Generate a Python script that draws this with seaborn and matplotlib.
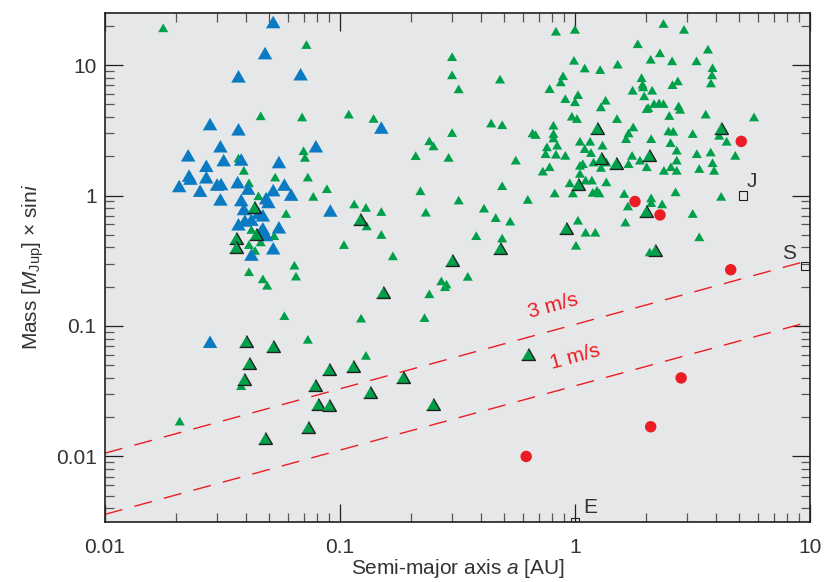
import numpy as np
import pandas as pd
import matplotlib
matplotlib.use('Agg')
import matplotlib.pyplot as plt
from matplotlib.markers import MarkerStyle
from matplotlib.ticker import FixedLocator, FixedFormatter, LogLocator, NullFormatter
import seaborn as sns

# radial-velocity planets (small green triangles)
rv_a = [0.0177, 0.072, 0.046, 0.069, 0.109, 0.070, 0.071, 0.037, 0.039, 0.053,
        0.041, 0.073, 0.088, 0.077, 0.045, 0.059, 0.041, 0.0435, 0.046, 0.0525,
        0.042, 0.041, 0.047, 0.049, 0.064, 0.065, 0.058, 0.104, 0.038, 0.0208,
        0.073,
        0.30, 0.30, 0.48, 0.32, 0.139, 0.44, 0.49, 0.30, 0.24, 0.25,
        0.21, 0.29, 0.56, 0.22, 0.49, 0.32, 0.115, 0.129, 0.15, 0.232,
        0.41, 0.46, 0.13, 0.15, 0.38, 0.49, 0.168, 0.35, 0.27, 0.284,
        0.28, 0.24, 0.123, 0.229, 0.129,
        0.83, 1.0, 2.38, 2.91, 1.85, 2.30, 3.68, 0.99, 2.10, 2.59,
        3.29, 1.10, 1.28, 1.52, 3.85, 0.89, 0.87, 1.92, 1.94, 1.95,
        2.74, 2.60, 3.83, 3.79, 0.78, 1.76, 2.13, 1.03, 0.91, 1.0,
        1.97, 1.35, 1.29, 2.17, 2.28, 2.38, 2.05, 2.02, 2.76, 2.80,
        2.52, 3.60, 5.78, 0.97, 1.02, 1.51, 0.81, 1.77, 0.66, 0.68,
        0.81, 0.81, 1.69, 1.65, 2.50, 2.62, 3.17, 2.11, 4.11, 4.42,
        1.05, 1.16, 0.76, 0.84, 0.75, 0.83, 0.91, 1.10, 1.17, 1.31,
        2.55, 2.71, 0.78, 0.73, 1.05, 1.08, 1.20, 1.29, 1.36, 1.75,
        1.69, 1.89, 2.02, 2.39, 2.56, 2.71, 2.71, 3.30, 3.78, 3.85,
        3.91, 3.38, 4.81, 1.05, 1.11, 0.95, 1.18, 1.36, 1.19, 1.24,
        1.27, 0.98, 0.82, 0.63, 1.62, 2.68, 4.19, 2.11, 1.68, 2.11,
        2.35, 3.17, 0.53, 1.03, 1.64, 1.11, 1.22, 1.01, 3.38, 2.08]
rv_mass = [18.8, 14.0, 3.98, 3.9, 4.1, 2.15, 1.91, 1.89, 1.52, 1.35,
           1.22, 1.35, 1.10, 0.96, 0.97, 0.71, 0.41, 0.37, 0.43, 0.48,
           0.535, 0.254, 0.224, 0.20, 0.285, 0.235, 0.117, 0.41, 0.034, 0.0182,
           0.077,
           11.3, 8.2, 7.6, 6.4, 3.8, 3.5, 3.4, 2.96, 2.56, 2.34,
           1.97, 1.91, 1.82, 1.06, 1.16, 0.90, 0.84, 0.79, 0.735, 0.726,
           0.78, 0.66, 0.57, 0.49, 0.48, 0.46, 0.336, 0.234, 0.216, 0.204,
           0.195, 0.172, 0.112, 0.113, 0.058,
           17.7, 18.3, 20.3, 18.3, 14.2, 12.1, 12.9, 10.6, 10.8, 10.5,
           10.5, 9.25, 9.0, 9.9, 9.3, 8.07, 7.24, 7.8, 6.94, 6.63,
           7.37, 6.9, 8.2, 7.1, 6.43, 6.25, 6.25, 5.78, 5.39, 5.1,
           5.66, 5.24, 4.66, 4.94, 5.0, 4.94, 4.6, 4.52, 4.74, 4.46,
           4.0, 4.1, 3.9, 3.95, 3.79, 3.79, 3.37, 3.27, 2.94, 2.86,
           2.91, 2.69, 2.94, 2.66, 3.05, 3.03, 2.91, 2.66, 2.82, 2.54,
           2.54, 2.54, 2.30, 2.37, 2.04, 2.02, 1.98, 2.23, 2.08, 2.37,
           2.48, 2.17, 1.62, 1.50, 1.66, 1.71, 1.76, 1.60, 1.76, 1.98,
           1.71, 1.82, 1.62, 1.52, 1.62, 1.82, 1.52, 2.04, 2.10, 1.74,
           1.52, 1.57, 1.98, 1.44, 1.28, 1.22, 1.28, 1.24, 1.03, 1.07,
           1.02, 1.02, 1.02, 0.91, 1.01, 1.04, 0.96, 0.935, 0.81, 0.86,
           0.84, 0.71, 0.62, 0.63, 0.61, 0.51, 0.51, 0.405, 0.47, 0.36]

# hot Jupiters (large blue triangles)
hot_a = [0.052, 0.048, 0.037, 0.068, 0.028, 0.037, 0.031, 0.079, 0.0226, 0.027,
         0.032, 0.038, 0.055, 0.0228, 0.0231, 0.027, 0.0207, 0.0254, 0.030, 0.0312,
         0.0367, 0.0407, 0.052, 0.058, 0.062, 0.031, 0.038, 0.0485, 0.0496, 0.039,
         0.045, 0.047, 0.037, 0.0394, 0.042, 0.047, 0.046, 0.0485, 0.055, 0.042,
         0.052, 0.091, 0.15, 0.028]
hot_mass = [20.6, 11.9, 7.9, 8.2, 3.4, 3.1, 2.3, 2.3, 1.96, 1.63,
            1.8, 1.82, 1.74, 1.37, 1.30, 1.33, 1.14, 1.05, 1.17, 1.18,
            1.22, 1.09, 1.06, 1.17, 0.98, 0.90, 0.89, 0.92, 0.86, 0.76,
            0.71, 0.68, 0.58, 0.62, 0.63, 0.54, 0.51, 0.48, 0.55, 0.34,
            0.38, 0.74, 3.2, 0.073]

# transiting planets (outlined triangles)
tr_a = [1.24, 4.17, 1.29, 1.49, 2.06, 1.03, 2.0, 0.92, 2.19, 0.48,
        0.30, 0.153, 0.122, 0.043, 0.044, 0.036, 0.036, 0.040, 0.052, 0.041,
        0.090, 0.114, 0.039, 0.186, 0.078, 0.134, 0.081, 0.090, 0.25, 0.63,
        0.073, 0.048]
tr_mass = [3.18, 3.18, 1.87, 1.71, 1.96, 1.19, 0.74, 0.54, 0.37, 0.38,
           0.31, 0.176, 0.64, 0.79, 0.49, 0.46, 0.39, 0.074, 0.068, 0.050,
           0.045, 0.048, 0.038, 0.039, 0.034, 0.030, 0.0244, 0.024, 0.0244, 0.059,
           0.0162, 0.0134]

# microlensing planets (red dots)
ml_a = [5.1, 1.8, 2.3, 4.6, 2.83, 2.1, 0.62]
ml_mass = [2.6, 0.90, 0.71, 0.27, 0.040, 0.0169, 0.010]

# solar system
sol_names = ['J', 'S', 'E']
sol_a = [5.2, 9.54, 1.0]
sol_mass = [1.0, 0.29, 0.00315]

# detection limits, read at a = 0.01 and a = 10
lim_labels = ['3 m/s', '1 m/s']
lim_a = [0.01, 10]
lim_mass = [[0.0106, 0.32], [0.0036, 0.108]]

GREEN = '#00a04b'
BLUE = '#0a7bc2'
RED = '#ec1c24'
INK = '#231f20'

plt.rcParams['font.family'] = ['Liberation Sans', 'DejaVu Sans']
plt.rcParams['mathtext.fontset'] = 'custom'
plt.rcParams['mathtext.rm'] = 'Liberation Sans'
plt.rcParams['mathtext.it'] = 'Liberation Sans:italic'

tri = MarkerStyle([(-1, -0.577), (1, -0.577), (0, 1.155)])

fig = plt.figure(figsize=(8.37, 5.82), dpi=100)
ax = fig.add_axes([0.1254, 0.1036, 0.8423, 0.8746])
ax.set_facecolor('#e6e7e8')
ax.set_xscale('log')
ax.set_yscale('log')
ax.set_xlim(0.01, 10)
ax.set_ylim(10 ** -2.5, 25.2)

sns.scatterplot(x=rv_a, y=rv_mass, marker=tri, s=70, color=GREEN,
                edgecolor='none', linewidth=0, ax=ax, zorder=3)
sns.scatterplot(x=hot_a, y=hot_mass, marker=tri, s=145, color=BLUE,
                edgecolor='none', linewidth=0, ax=ax, zorder=4)
sns.scatterplot(x=tr_a, y=tr_mass, marker=tri, s=130, color=GREEN,
                edgecolor=INK, linewidth=1.0, ax=ax, zorder=5)
sns.scatterplot(x=ml_a, y=ml_mass, marker='o', s=68, color=RED,
                edgecolor='none', linewidth=0, ax=ax, zorder=6)
sns.scatterplot(x=sol_a, y=sol_mass, marker='s', s=36, facecolor='none',
                edgecolor=INK, linewidth=0.8, ax=ax, zorder=6)

for name, a, m, dx, dy in zip(sol_names, sol_a, sol_mass,
                              [1.09, 0.855, 1.16], [1.29, 1.24, 1.3]):
    ax.text(a * dx, m * dy, name, fontsize=15, color='#333333',
            ha='center', va='center', zorder=7)

lim_df = pd.DataFrame({'a': lim_a * 2,
                       'mass': lim_mass[0] + lim_mass[1],
                       'limit': [lim_labels[0]] * 2 + [lim_labels[1]] * 2})
for lab, grp in lim_df.groupby('limit', sort=False):
    sns.lineplot(data=grp, x='a', y='mass', color=RED, linewidth=1.0,
                 dashes=False, ax=ax, zorder=2).lines[-1].set_dashes((13, 9))

# rotate labels along the dashed lines
fig.canvas.draw()
p0 = ax.transData.transform((lim_a[0], lim_mass[0][0]))
p1 = ax.transData.transform((lim_a[1], lim_mass[0][1]))
angle = np.degrees(np.arctan2(p1[1] - p0[1], p1[0] - p0[0]))
ax.text(0.805, 0.143, lim_labels[0], color=RED, fontsize=15, rotation=angle,
        ha='center', va='center', rotation_mode='anchor')
ax.text(1.0, 0.058, lim_labels[1], color=RED, fontsize=15, rotation=angle,
        ha='center', va='center', rotation_mode='anchor')

ticks = [0.01, 0.1, 1, 10]
tick_labels = ['0.01', '0.1', '1', '10']
for axis in (ax.xaxis, ax.yaxis):
    axis.set_major_locator(FixedLocator(ticks))
    axis.set_major_formatter(FixedFormatter(tick_labels))
    axis.set_minor_locator(LogLocator(base=10, subs=np.arange(2, 10), numticks=20))
    axis.set_minor_formatter(NullFormatter())

ax.tick_params(which='both', direction='in', top=True, right=True,
               labelsize=15, labelcolor='#333333')
ax.tick_params(which='major', length=13, width=0.9, color=INK)
ax.tick_params(which='minor', length=6.5, width=0.9, color='#555555')
ax.tick_params(axis='x', which='major', pad=12)
ax.tick_params(axis='y', which='major', pad=6)

for side in ax.spines.values():
    side.set_color(INK)
    side.set_linewidth(1.2)

ax.set_xlabel(r'Semi-major axis $\mathit{a}$ [AU]', fontsize=15,
              color='#333333', labelpad=0)
ax.set_ylabel(r'Mass [$\mathit{M}_{\mathrm{Jup}}$] × sin$\mathit{i}$',
              fontsize=15, color='#333333', labelpad=7)

fig.savefig('out.png', dpi=100, facecolor='white')
